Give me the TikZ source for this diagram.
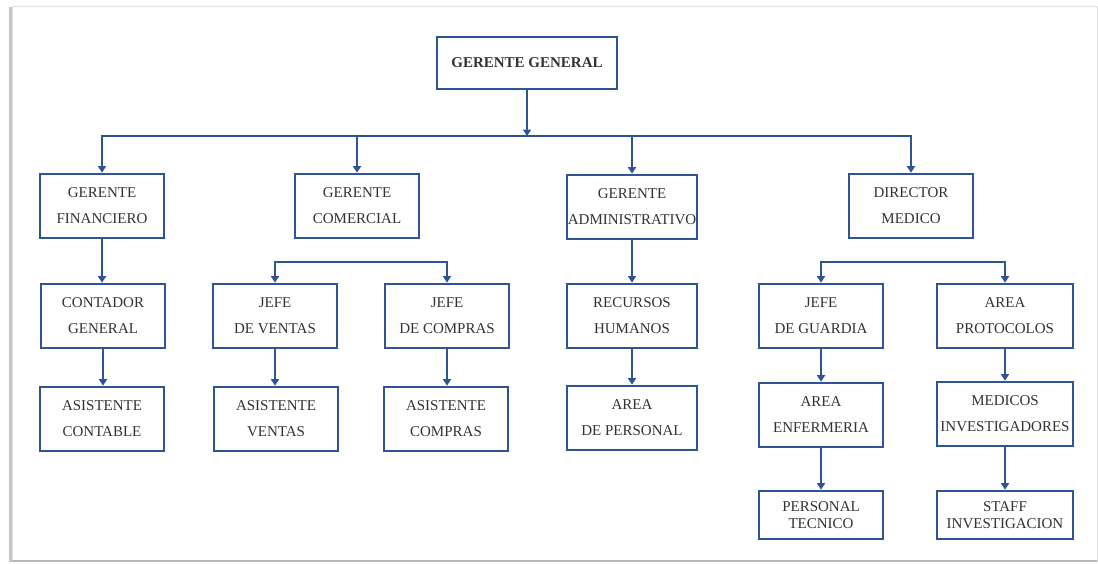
\documentclass[tikz,border=0pt]{standalone}
\usepackage{fontspec}
\setmainfont{Liberation Serif}
\usetikzlibrary{arrows.meta}
\definecolor{chartBlue}{RGB}{47,84,150}
\definecolor{chartText}{RGB}{50,50,50}

\begin{document}
\begin{tikzpicture}
[x=1pt,y=-1pt,
  boxDecorate/.style={draw=chartBlue,line width=2.6pt,align=center,inner xsep=0pt,
    inner ysep=2pt,text=chartText},
  arrowDecorate/.style={draw=chartBlue,line width=2.2pt,-{Triangle[width=8pt,length=6.5pt]}},
  frameDecorate/.style={draw=black!12,line width=1pt}]
\useasboundingbox (0,0) rectangle (1098,563);
%% page frame with its shadow
\fill[black!22] (9,7) rectangle (13,562);
\draw[frameDecorate] (12,6) rectangle (1097,561);
\draw[black!28,line width=2pt] (12,561) -- (1097,561);
%% boxes
\foreach \nodename/\x/\y/\boxw/\boxh/\spacing/\label in {
  gg/527/63/180/52/26/{\textbf{GERENTE GENERAL}},
  fin/102/206/124/64/26/{GERENTE\\FINANCIERO},
  com/357/206/124/64/26/{GERENTE\\COMERCIAL},
  adm/632/207/130/64/26/{GERENTE\\ADMINISTRATIVO},
  dir/911/206/124/64/26/{DIRECTOR\\MEDICO},
  cont/103/316/124/64/26/{CONTADOR\\GENERAL},
  jven/275/316/124/64/26/{JEFE\\DE VENTAS},
  jcom/447/316/124/64/26/{JEFE\\DE COMPRAS},
  rrhh/632/316/130/64/26/{RECURSOS\\HUMANOS},
  jgua/821/316/124/64/26/{JEFE\\DE GUARDIA},
  apro/1005/316/136/64/26/{AREA\\PROTOCOLOS},
  acon/102/419/124/64/26/{ASISTENTE\\CONTABLE},
  aven/276/419/124/64/26/{ASISTENTE\\VENTAS},
  acom/446/419/124/64/26/{ASISTENTE\\COMPRAS},
  aper/632/418/130/64/26/{AREA\\DE PERSONAL},
  aenf/821/415/124/64/26/{AREA\\ENFERMERIA},
  minv/1005/414/136/64/26/{MEDICOS\\INVESTIGADORES},
  ptec/821/515/124/48/17/{PERSONAL\\TECNICO},
  sinv/1005/515/136/48/17/{STAFF\\INVESTIGACION}}
{
  \node (\nodename) at (\x,\y) [boxDecorate,minimum width=\boxw pt,minimum height=\boxh pt,
    font=\fontsize{15}{\spacing}\selectfont] {\label};
}
%% buses
\coordinate (bus) at (527,136);
\coordinate (comBus) at (361,262);
\coordinate (medBus) at (911,262);
\draw[arrowDecorate] (gg) -- (bus);
\foreach \child in {fin,com,adm,dir}
  \draw[arrowDecorate] (bus) -| (\child);
\foreach \child in {jven,jcom}
  \draw[arrowDecorate] (comBus) -| (\child);
\foreach \child in {jgua,apro}
  \draw[arrowDecorate] (medBus) -| (\child);
%% straight drops
\foreach \startnode/\endnode in {
  fin/cont, cont/acon, jven/aven, jcom/acom, adm/rrhh, rrhh/aper,
  jgua/aenf, aenf/ptec, apro/minv, minv/sinv}
  \draw[arrowDecorate] (\startnode.south) -- (\startnode.south |- \endnode.north);
\end{tikzpicture}
\end{document}
